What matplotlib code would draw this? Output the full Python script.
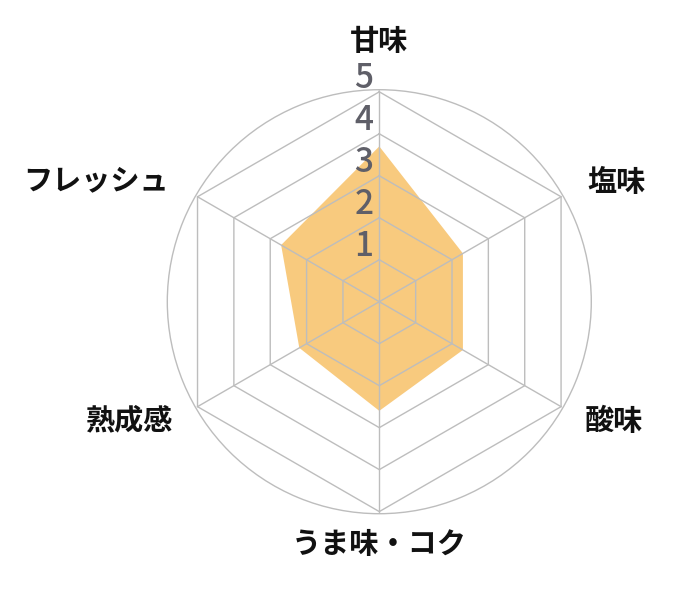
import numpy as np
import matplotlib
matplotlib.use('Agg')
import matplotlib.pyplot as plt

plt.rcParams['font.family'] = ['Noto Sans CJK JP', 'DejaVu Sans']

# データ
categories = ['甘味', '塩味', '酸味', 'うま味・コク', '熟成感', 'フレッシュ']
values = [3.7, 2.3, 2.3, 2.6, 2.2, 2.7]
levels = [1, 2, 3, 4, 5]
level_labels = ['1', '2', '3', '4', '5']

grid_color = '#bdbdbd'
fill_color = '#f8ca7e'

n = len(categories)
angles = np.linspace(0, 2 * np.pi, n, endpoint=False)
closed = np.append(angles, angles[0])

fig = plt.figure(figsize=(7, 6), dpi=100)
ax = fig.add_axes([0.239, 0.1438, 0.6057, 0.7067], projection='polar')
ax.set_theta_zero_location('N')
ax.set_theta_direction(-1)
ax.set_ylim(0, 5.05)
ax.grid(False)
ax.set_xticks([])
ax.set_yticks([])
ax.spines['polar'].set_color(grid_color)
ax.spines['polar'].set_linewidth(1)

# 値の塗りつぶし
vals = np.append(values, values[0])
ax.fill(closed, vals, color=fill_color, lw=0, zorder=1)

# 六角形のグリッド
for lv in levels:
    ax.plot(closed, [lv] * (n + 1), color=grid_color, lw=1, zorder=2)
for a in angles:
    ax.plot([a, a], [0, levels[-1]], color=grid_color, lw=1, zorder=2)

# 目盛りラベル
for lv, lab in zip(levels, level_labels):
    ax.annotate(lab, xy=(0, lv), xytext=(-6, 4), textcoords='offset pixels',
                ha='right', va='baseline', fontsize=24, fontweight=500,
                color='#5f5f68', zorder=3)

# 項目ラベル
label_r = [6.22, 5.72, 5.66, 5.76, 5.66, 5.8]
for a, r, cat in zip(angles, label_r, categories):
    deg = np.degrees(a)
    if deg < 1 or abs(deg - 180) < 1:
        ha = 'center'
    elif deg < 180:
        ha = 'left'
    else:
        ha = 'right'
    ax.text(a, r, cat, ha=ha, va='center', fontsize=21, fontweight='bold',
            color='#111111')

fig.savefig('out.png', dpi=100)
